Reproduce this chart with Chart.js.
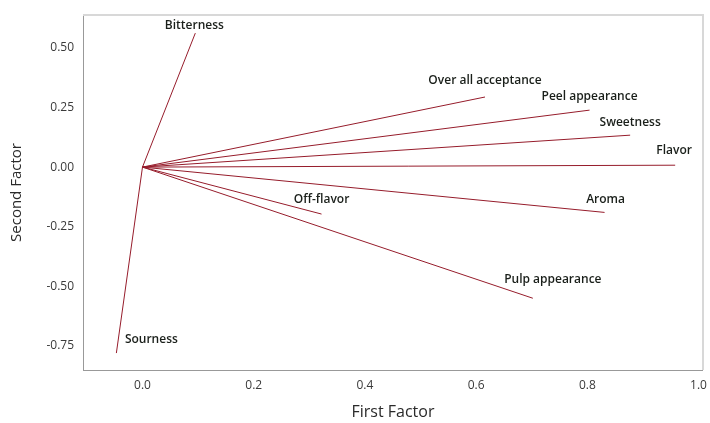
<!DOCTYPE html>
<html>
<head>
<meta charset="utf-8">
<script src="https://cdn.jsdelivr.net/npm/chart.js@4/dist/chart.umd.min.js"></script>
<style>
  html, body { margin: 0; padding: 0; background: #fff; }
  #wrap { width: 710px; height: 423px; }
</style>
</head>
<body>
<div id="wrap"><canvas id="loadings"></canvas></div>
<script>
// factor loadings
const attributes = ["Bitterness", "Sourness", "Over all acceptance", "Peel appearance",
  "Sweetness", "Flavor", "Aroma", "Off-flavor", "Pulp appearance"]
const firstFactor = [0.095, -0.047, 0.616, 0.804, 0.877, 0.958, 0.831, 0.322, 0.702]
const secondFactor = [0.562, -0.78, 0.294, 0.239, 0.134, 0.008, -0.19, -0.197, -0.55]

const xTicks = [0.0, 0.2, 0.4, 0.6, 0.8, 1.0]
const yTicks = [-0.75, -0.5, -0.25, 0.0, 0.25, 0.5]

// label nudge in px from the vector tip (text centre)
const labelNudge = {
  "Bitterness": [-1, -8],
  "Sourness": [35, -13],
  "Over all acceptance": [0, -16],
  "Peel appearance": [0, -14],
  "Sweetness": [0, -13],
  "Flavor": [-1, -15],
  "Aroma": [1, -13],
  "Off-flavor": [0, -14],
  "Pulp appearance": [20, -19]
}

const lineColor = "#961c2b"

const datasets = attributes.map((name, i) => ({
  label: name,
  data: [{ x: 0, y: 0 }, { x: firstFactor[i], y: secondFactor[i] }],
  showLine: true,
  borderColor: lineColor,
  borderWidth: 1,
  pointRadius: 0
}))

const frameAndLabels = {
  id: "frameAndLabels",
  afterDatasetsDraw(chart) {
    const { ctx, chartArea: a, scales: { x, y } } = chart
    ctx.save()
    // light frame top / right
    ctx.strokeStyle = "#d8d8d8"
    ctx.lineWidth = 2
    ctx.beginPath()
    ctx.moveTo(a.left, a.top)
    ctx.lineTo(a.right, a.top)
    ctx.lineTo(a.right, a.bottom)
    ctx.stroke()

    ctx.font = "600 12px 'Open Sans'"
    ctx.fillStyle = "#1a1f1a"
    ctx.textAlign = "center"
    ctx.textBaseline = "middle"
    attributes.forEach((name, i) => {
      const n = labelNudge[name] || [0, -12]
      ctx.fillText(name, x.getPixelForValue(firstFactor[i]) + n[0], y.getPixelForValue(secondFactor[i]) + n[1])
    })
    ctx.restore()
  }
}

new Chart(document.getElementById("loadings"), {
  type: "scatter",
  data: { datasets },
  plugins: [frameAndLabels],
  options: {
    responsive: true,
    maintainAspectRatio: false,
    animation: false,
    layout: { padding: { top: 15, right: 4, left: 0, bottom: 0 } },
    plugins: { legend: { display: false }, tooltip: { enabled: false } },
    scales: {
      x: {
        type: "linear",
        min: -0.107,
        max: 1.008,
        afterBuildTicks: s => { s.ticks = xTicks.map(v => ({ value: v })) },
        afterFit: s => { s.height = 53 },
        grid: { display: false, drawTicks: true, tickLength: 5, tickColor: "#999" },
        border: { color: "#999", width: 1 },
        ticks: {
          color: "#3a3a3a",
          font: { family: "'Open Sans'", size: 12 },
          padding: 3,
          callback: v => Number(v).toFixed(1)
        },
        title: {
          display: true,
          text: "First Factor",
          color: "#2a2a2a",
          font: { family: "'Open Sans'", size: 16 },
          padding: { bottom: 1 }
        }
      },
      y: {
        type: "linear",
        min: -0.851,
        max: 0.638,
        afterBuildTicks: s => { s.ticks = yTicks.map(v => ({ value: v })) },
        afterFit: s => { s.width = 83 },
        grid: { display: false, drawTicks: true, tickLength: 5, tickColor: "#999" },
        border: { color: "#999", width: 1 },
        ticks: {
          color: "#3a3a3a",
          font: { family: "'Open Sans'", size: 12 },
          padding: 4,
          callback: v => Number(v).toFixed(2)
        },
        title: {
          display: true,
          text: "Second Factor",
          color: "#2a2a2a",
          font: { family: "'Open Sans'", size: 15 },
          padding: { top: 8 }
        }
      }
    }
  }
})
</script>
</body>
</html>
